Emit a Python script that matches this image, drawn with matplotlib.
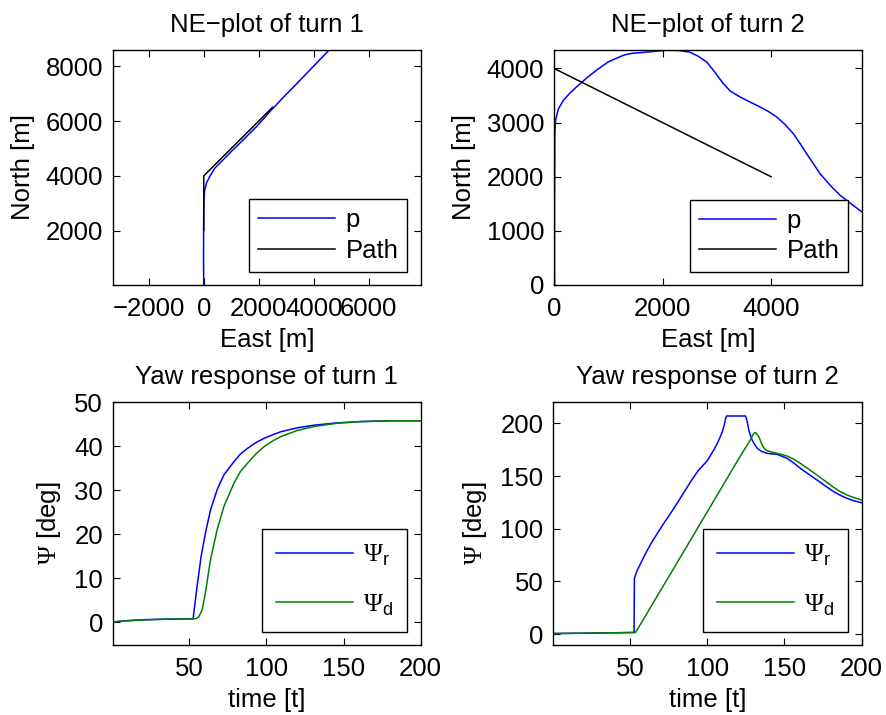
import matplotlib
matplotlib.use("Agg")
import matplotlib.pyplot as plt

FS = 18.5
plt.rcParams['font.family'] = ['Liberation Sans', 'DejaVu Sans']
plt.rcParams['font.size'] = FS
plt.rcParams['mathtext.fontset'] = 'custom'
plt.rcParams['mathtext.rm'] = 'Liberation Serif'
plt.rcParams['mathtext.it'] = 'Liberation Sans'
plt.rcParams['mathtext.sf'] = 'Liberation Sans'
plt.rcParams['axes.linewidth'] = 1.0

# ---- Turn 1 NE data ----
t1_p_east = [0, -8, -5, 0, 5, 30, 97, 218, 400, 703, 1000, 1309, 1915, 2400, 2900, 3600, 4550]
t1_p_north = [0, 1000, 2000, 2700, 3100, 3450, 3734, 3975, 4279, 4582, 4885, 5188, 5793, 6339,
              6870, 7590, 8580]
t1_path_east = [0, 0, 2500]
t1_path_north = [2000, 4000, 6500]

# ---- Turn 2 NE data ----
t2_p_east = [10, 10, 15, 30, 80, 172, 290, 417, 600, 786, 1000, 1154, 1300, 1450, 1584, 1800,
             2075, 2300, 2505, 2650, 2812, 2950, 3119, 3250, 3425, 3600, 3794, 3950, 4101, 4250,
             4407, 4530, 4653, 4780, 4899, 5100, 5267, 5500, 5670]
t2_p_north = [0, 1500, 2800, 3050, 3250, 3410, 3540, 3660, 3820, 3970, 4120, 4190, 4250, 4280,
              4290, 4310, 4336, 4330, 4300, 4230, 4120, 3950, 3720, 3580, 3475, 3385, 3290,
              3205, 3106, 2970, 2799, 2620, 2429, 2240, 2060, 1830, 1661, 1480, 1353]
t2_path_east = [0, 0, 4000]
t2_path_north = [2000, 4000, 2000]

# ---- Turn 1 yaw ----
y1_t_r = [0, 5, 10, 20, 30, 40, 52.4, 55.0, 57.6, 60.4, 63.7, 68.0, 72.4, 78.9, 83, 87.6, 93,
          98.4, 104, 109.3, 120, 131.0, 145, 160, 180, 200]
y1_psi_r = [0, 0.2, 0.35, 0.55, 0.65, 0.7, 0.75, 8.1, 14.9, 20.2, 25.5, 30.1, 33.5, 36.5, 38.2,
            39.5, 40.8, 41.8, 42.6, 43.3, 44.2, 44.8, 45.3, 45.6, 45.8, 45.8]
y1_t_d = [0, 5, 10, 20, 30, 40, 52.8, 54.5, 56.1, 58.3, 60.4, 63.7, 68.0, 72.4, 78.9, 83, 87.6,
          93, 98.4, 104, 109.3, 120, 131.0, 145, 160, 180, 200]
y1_psi_d = [0, 0.2, 0.3, 0.5, 0.6, 0.7, 0.75, 0.8, 1.2, 2.8, 6.6, 14.2, 21.0, 26.3, 31.6, 34.2,
            36.1, 38.2, 39.9, 41.2, 42.2, 43.6, 44.5, 45.2, 45.6, 45.8, 45.8]

# ---- Turn 2 yaw ----
y2_t_r = [0, 20, 40, 52.6, 52.8, 54.5, 56.9, 60, 64, 67.7, 72, 78.4, 84, 89.2, 94, 97.8, 100,
          102.2, 104.5, 106.5, 108.2, 109.7, 111, 111.9, 112.5, 124.8, 125.9, 126.9, 128,
          129.1, 130.7, 132.4, 135, 138.8, 142, 145.3, 151.7, 156, 160.3, 165.7, 171.1, 176.5,
          181.9, 186, 190.5, 195, 200]
y2_psi_r = [0.5, 0.8, 1.2, 1.5, 52.9, 60, 67.1, 76.5, 87, 95.6, 105.5, 119.3, 132.5, 144.5,
            155, 161, 164.5, 169.9, 175.5, 181, 186.5, 192, 198.5, 204.7, 207, 207, 201.5,
            193.6, 188.5, 184.1, 179.8, 176.3, 173.5, 171.5, 171.0, 170.6, 166.8, 162.3, 157.3,
            151.7, 146.2, 140.5, 135.1, 131.8, 128.8, 126.5, 124.6]
y2_t_d = [0, 20, 40, 53.6, 80, 100, 120, 128, 129.5, 130.8, 132, 133.4, 134.5, 135.6, 137,
          138.8, 142, 145.3, 151.7, 156, 160.3, 165.7, 171.1, 176.5, 181.9, 186, 190.5, 195, 200]
y2_psi_d = [0.5, 0.8, 1.2, 1.5, 66.6, 116.0, 165.5, 184.5, 189, 191.4, 190, 187.3, 183.3,
            179.4, 176, 174, 172.6, 171.5, 169, 166, 162, 156.5, 150.9, 145, 139.2, 135.3, 132,
            129.5, 127.2]

BLUE = '#0000ff'
GREEN = '#008000'
LW = 1.1

fig = plt.figure(figsize=(8.87, 7.15), dpi=100)
W, H = 887.0, 715.0


def make_ax(l, r, t, b):
    return fig.add_axes([l / W, 1 - b / H, (r - l) / W, (b - t) / H])


def style(ax):
    ax.tick_params(direction='in', top=True, right=True, length=5, width=0.8,
                   labelsize=FS)
    ax.tick_params(axis='x', pad=9)
    ax.tick_params(axis='y', pad=7)


def legend(ax, labels, right, bottom, ls=0.3, bp=0.45):
    leg = ax.legend(labels, loc='lower right', bbox_to_anchor=(right, bottom),
                    borderaxespad=0, fancybox=False, edgecolor='black', framealpha=1,
                    handlelength=3.0, handletextpad=0.4, labelspacing=ls, borderpad=bp,
                    fontsize=FS)
    leg.get_frame().set_linewidth(1.0)
    return leg

# Top-left
ax1 = make_ax(113, 421, 50, 285)
ax1.plot(t1_p_east, t1_p_north, color=BLUE, lw=LW)
ax1.plot(t1_path_east, t1_path_north, color='black', lw=LW)
ax1.set_xlim(-3300, 7900)
ax1.set_ylim(20, 8590)
ax1.set_xticks([-2000, 0, 2000, 4000, 6000])
ax1.set_yticks([2000, 4000, 6000, 8000])
style(ax1)
ax1.set_title('NE\u2212plot of turn 1', fontsize=FS, pad=13)
ax1.set_xlabel('East [m]', fontsize=FS, labelpad=5)
ax1.set_ylabel('North [m]', fontsize=FS, labelpad=8)
legend(ax1, ['p', 'Path'], (407.3 - 113) / 308, (285 - 271.7) / 235, ls=0.25, bp=0.35)

# Top-right
ax2 = make_ax(554, 861.7, 50, 285)
ax2.plot(t2_p_east, t2_p_north, color=BLUE, lw=LW)
ax2.plot(t2_path_east, t2_path_north, color='black', lw=LW)
ax2.set_xlim(0, 5670)
ax2.set_ylim(0, 4340)
ax2.set_xticks([0, 2000, 4000])
ax2.set_yticks([0, 1000, 2000, 3000, 4000])
style(ax2)
ax2.set_title('NE\u2212plot of turn 2', fontsize=FS, pad=13)
ax2.set_xlabel('East [m]', fontsize=FS, labelpad=5)
ax2.set_ylabel('North [m]', fontsize=FS, labelpad=8)
legend(ax2, ['p', 'Path'], (848.3 - 554) / 307.7, (285 - 272.3) / 235, ls=0.25, bp=0.35)

# Bottom-left
ax3 = make_ax(112.7, 420.7, 402.3, 645)
ax3.plot(y1_t_r, y1_psi_r, color=BLUE, lw=LW)
ax3.plot(y1_t_d, y1_psi_d, color=GREEN, lw=LW)
ax3.set_xlim(0.3, 200)
ax3.set_ylim(-5.2, 50)
ax3.set_xticks([50, 100, 150, 200])
ax3.set_yticks([0, 10, 20, 30, 40, 50])
style(ax3)
ax3.set_title('Yaw response of turn 1', fontsize=FS, pad=13)
ax3.set_xlabel('time [t]', fontsize=FS, labelpad=5)
ax3.set_ylabel(r'$\Psi$ [deg]', fontsize=FS, labelpad=8)
legend(ax3, [r'$\Psi_\mathsf{r}$', r'$\Psi_\mathsf{d}$'],
       (407.3 - 112.7) / 308, (645 - 631.7) / 242.7, ls=0.95, bp=0.55)

# Bottom-right
ax4 = make_ax(553.3, 861.7, 402.3, 645)
ax4.plot(y2_t_r, y2_psi_r, color=BLUE, lw=LW)
ax4.plot(y2_t_d, y2_psi_d, color=GREEN, lw=LW)
ax4.set_xlim(0.3, 200)
ax4.set_ylim(-10.4, 220)
ax4.set_xticks([50, 100, 150, 200])
ax4.set_yticks([0, 50, 100, 150, 200])
style(ax4)
ax4.set_title('Yaw response of turn 2', fontsize=FS, pad=13)
ax4.set_xlabel('time [t]', fontsize=FS, labelpad=5)
ax4.set_ylabel(r'$\Psi$ [deg]', fontsize=FS, labelpad=8)
legend(ax4, [r'$\Psi_\mathsf{r}$', r'$\Psi_\mathsf{d}$'],
       (848.3 - 553.3) / 308.4, (645 - 631.7) / 242.7, ls=0.95, bp=0.55)

fig.savefig('out.png', dpi=100)
